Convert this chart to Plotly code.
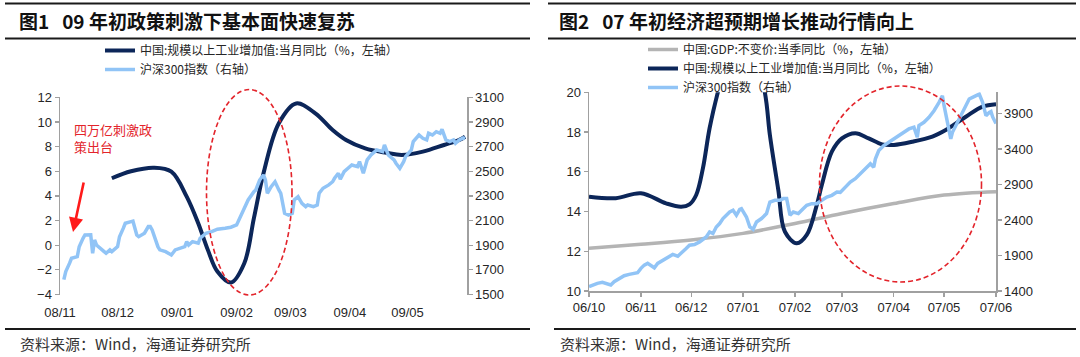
import plotly.graph_objects as go

W, H = 1080, 357

# ---------------- Figure 1 data (2008/11 - 2009/05) ----------------
# industrial value added yoy (%)
ip09_dates = ["2008-11-28", "2008-12-08", "2008-12-20", "2008-12-29", "2009-01-06",
              "2009-01-12", "2009-01-17", "2009-01-22", "2009-01-29", "2009-02-05",
              "2009-02-10", "2009-02-15", "2009-02-23", "2009-03-04", "2009-03-14",
              "2009-03-23", "2009-03-30", "2009-04-09", "2009-04-20", "2009-04-28",
              "2009-05-09", "2009-05-20", "2009-05-28", "2009-05-31"]
ip09_vals = [5.43, 6.0, 6.29, 5.97, 3.94,
             1.78, -0.38, -2.14, -3.03, -1.46,
             2.2, 5.84, 9.9, 11.5, 10.7,
             9.35, 8.54, 7.86, 7.5, 7.32,
             7.59, 8.13, 8.54, 8.8]

hs09_dates = [
    "2008-11-03", "2008-11-04", "2008-11-06", "2008-11-07", "2008-11-10", "2008-11-11",
    "2008-11-13", "2008-11-14", "2008-11-17", "2008-11-18", "2008-11-19", "2008-11-20",
    "2008-11-24", "2008-11-25", "2008-11-27", "2008-11-28", "2008-12-01", "2008-12-02",
    "2008-12-04", "2008-12-05", "2008-12-08", "2008-12-09", "2008-12-11", "2008-12-12",
    "2008-12-15", "2008-12-17", "2008-12-18", "2008-12-19", "2008-12-22", "2008-12-23",
    "2008-12-26", "2008-12-29", "2008-12-31", "2009-01-05", "2009-01-06", "2009-01-07",
    "2009-01-09", "2009-01-12", "2009-01-13", "2009-01-16", "2009-01-19", "2009-01-22",
    "2009-01-26", "2009-01-29", "2009-02-01", "2009-02-03", "2009-02-05", "2009-02-07",
    "2009-02-10", "2009-02-11", "2009-02-13", "2009-02-15", "2009-02-16", "2009-02-17",
    "2009-02-19", "2009-02-21", "2009-02-23", "2009-02-24", "2009-02-26", "2009-02-28",
    "2009-03-02", "2009-03-03", "2009-03-05", "2009-03-07", "2009-03-09", "2009-03-10",
    "2009-03-13", "2009-03-15", "2009-03-16", "2009-03-18", "2009-03-21", "2009-03-23",
    "2009-03-24", "2009-03-26", "2009-03-27", "2009-03-29", "2009-03-31", "2009-04-02",
    "2009-04-05", "2009-04-06", "2009-04-08", "2009-04-10", "2009-04-12", "2009-04-15",
    "2009-04-18", "2009-04-19", "2009-04-21", "2009-04-24", "2009-04-25", "2009-04-27",
    "2009-04-29", "2009-04-30", "2009-05-03", "2009-05-04", "2009-05-07", "2009-05-09",
    "2009-05-11", "2009-05-12", "2009-05-14", "2009-05-16", "2009-05-18", "2009-05-19",
    "2009-05-21", "2009-05-23", "2009-05-25", "2009-05-26", "2009-05-28", "2009-05-30",
    "2009-05-31"]
hs09_vals = [
    1620, 1686, 1754, 1794, 1807, 1888,
    1956, 1983, 1985, 1835, 1943, 1902,
    1848, 1835, 1862, 1848, 1888, 1969,
    2038, 2078, 2091, 2095, 1983, 1969,
    1997, 2051, 2051, 2024, 1888, 1862,
    1848, 1821, 1862, 1888, 1929, 1902,
    1929, 1916, 1956, 1997, 2010, 2030,
    2038, 2046, 2064, 2132, 2186, 2267,
    2334, 2348, 2429, 2470, 2429, 2321,
    2375, 2415, 2348, 2321, 2159, 2145,
    2159, 2267, 2294, 2240, 2213, 2226,
    2213, 2226, 2321, 2362, 2389, 2415,
    2443, 2484, 2435, 2497, 2524, 2551,
    2537, 2578, 2484, 2592, 2632, 2673,
    2659, 2713, 2632, 2592, 2565, 2524,
    2578, 2618, 2673, 2740, 2794, 2767,
    2754, 2808, 2794, 2821, 2808, 2840,
    2754, 2740, 2754, 2727, 2754, 2770,
    2764]

# ---------------- Figure 2 data (2006/10 - 2007/06) ----------------
gdp07_dates = ["2006-10-01", "2006-11-01", "2006-12-01", "2007-01-01", "2007-02-01",
               "2007-03-01", "2007-04-01", "2007-05-01", "2007-06-01"]
gdp07_vals = [12.15, 12.35, 12.57, 12.9, 13.4, 13.9, 14.4, 14.83, 15.0]

ip07_dates = ["2006-10-01", "2006-10-17", "2006-11-01", "2006-11-16", "2006-11-25",
              "2006-11-30", "2006-12-04", "2006-12-08", "2006-12-12", "2006-12-17",
              "2007-01-01", "2007-01-14", "2007-01-17", "2007-01-22", "2007-01-26",
              "2007-02-02", "2007-02-08", "2007-02-14", "2007-02-17", "2007-02-23",
              "2007-03-01", "2007-03-09", "2007-03-17", "2007-03-25", "2007-04-01",
              "2007-04-12", "2007-04-24", "2007-05-02", "2007-05-14", "2007-05-24",
              "2007-06-01"]
ip07_vals = [14.75, 14.67, 14.92, 14.41, 14.24,
             14.36, 14.83, 16.17, 18.19, 20.03,
             24.5, 20.0, 17.85, 15.1, 12.98,
             12.4, 12.82, 14.33, 15.33, 17.01,
             17.68, 17.94, 17.68, 17.38, 17.35,
             17.51, 17.77, 18.1, 18.77, 19.28,
             19.4]

hs07_dates = [
    "2006-10-01", "2006-10-03", "2006-10-06", "2006-10-09", "2006-10-12", "2006-10-14",
    "2006-10-16", "2006-10-19", "2006-10-22", "2006-10-25", "2006-10-28", "2006-10-30",
    "2006-11-01", "2006-11-03", "2006-11-05", "2006-11-07", "2006-11-09", "2006-11-11",
    "2006-11-14", "2006-11-17", "2006-11-20", "2006-11-23", "2006-11-25", "2006-11-28",
    "2006-11-30", "2006-12-03", "2006-12-06", "2006-12-08", "2006-12-10", "2006-12-12",
    "2006-12-14", "2006-12-16", "2006-12-18", "2006-12-20", "2006-12-22", "2006-12-24",
    "2006-12-26", "2006-12-28", "2006-12-30", "2006-12-31", "2007-01-03", "2007-01-05",
    "2007-01-07", "2007-01-09", "2007-01-12", "2007-01-15", "2007-01-17", "2007-01-20",
    "2007-01-23", "2007-01-25", "2007-01-27", "2007-01-29", "2007-01-31", "2007-02-03",
    "2007-02-06", "2007-02-08", "2007-02-11", "2007-02-14", "2007-02-17", "2007-02-20",
    "2007-02-23", "2007-02-26", "2007-02-28", "2007-03-03", "2007-03-06", "2007-03-09",
    "2007-03-12", "2007-03-15", "2007-03-18", "2007-03-20", "2007-03-21", "2007-03-23",
    "2007-03-26", "2007-03-29", "2007-04-01", "2007-04-04", "2007-04-07", "2007-04-10",
    "2007-04-13", "2007-04-15", "2007-04-16", "2007-04-19", "2007-04-22", "2007-04-25",
    "2007-04-28", "2007-04-30", "2007-05-01", "2007-05-03", "2007-05-05", "2007-05-06",
    "2007-05-08", "2007-05-11", "2007-05-14", "2007-05-16", "2007-05-18", "2007-05-20",
    "2007-05-22", "2007-05-24", "2007-05-26", "2007-05-28", "2007-05-29", "2007-05-30",
    "2007-05-31", "2007-06-01"]
hs07_vals = [
    1460, 1484, 1508, 1522, 1494, 1484,
    1531, 1578, 1615, 1634, 1648, 1657,
    1719, 1765, 1789, 1765, 1727, 1789,
    1835, 1882, 1915, 1891, 1929, 2000,
    2046, 2056, 2092, 2130, 2162, 2233,
    2210, 2303, 2350, 2421, 2467, 2513,
    2537, 2467, 2551, 2561, 2443, 2303,
    2270, 2373, 2421, 2491, 2654, 2678,
    2678, 2702, 2702, 2467, 2513, 2491,
    2561, 2607, 2631, 2631, 2678, 2724,
    2748, 2794, 2790, 2864, 2935, 2982,
    3052, 3123, 3193, 3145, 3263, 3380,
    3450, 3496, 3544, 3590, 3637, 3684,
    3707, 3566, 3731, 3777, 3847, 3941,
    4058, 4152, 4011, 3777, 3544, 3637,
    3731, 3871, 4011, 4105, 4128, 4152,
    4175, 4058, 3871, 3917, 3930, 3853,
    3790, 3760]

left_xticks = ["2008-11-01", "2008-12-01", "2009-01-01", "2009-02-01",
               "2009-03-01", "2009-04-01", "2009-05-01"]
left_xlabels = ["08/11", "08/12", "09/01", "09/02", "09/03", "09/04", "09/05"]
right_xticks = ["2006-10-01", "2006-11-01", "2006-12-01", "2007-01-01", "2007-02-01",
                "2007-03-01", "2007-04-01", "2007-05-01", "2007-06-01"]
right_xlabels = ["06/10", "06/11", "06/12", "07/01", "07/02", "07/03", "07/04", "07/05", "07/06"]
left_ticks_l = [-4, -2, 0, 2, 4, 6, 8, 10, 12]
left_ticks_r = [1500, 1700, 1900, 2100, 2300, 2500, 2700, 2900, 3100]
right_ticks_l = [10, 12, 14, 16, 18, 20]
right_ticks_r = [1400, 1900, 2400, 2900, 3400, 3900]

name_ip = "中国:规模以上工业增加值:当月同比（%，左轴）"
name_hs = "沪深300指数（右轴）"
name_gdp = "中国:GDP:不变价:当季同比（%，左轴）"

NAVY = "#0c2659"
LBLUE = "#91c4f6"
GREY = "#b4b4b4"
AXIS = "#a0a0a0"
RED = "#e3242b"
TXT = "#262626"
FONT = "Liberation Sans, Arial, Noto Sans CJK SC"
CJK = "Noto Sans CJK SC, Liberation Sans"


def px(x):
    return x / W


def py(y):
    return 1 - y / H


# plot areas (pixels)
L_X0, L_X1, L_Y0, L_Y1 = 60, 467, 97.3, 294.5
R_X0, R_X1, R_Y0, R_Y1 = 589, 996, 92.3, 291

fig = go.Figure()

# ---- left panel ----
fig.add_trace(go.Scatter(x=ip09_dates, y=ip09_vals, name=name_ip, mode="lines",
                         line=dict(color=NAVY, width=4, shape="spline", smoothing=1.0),
                         xaxis="x", yaxis="y", legend="legend"))
fig.add_trace(go.Scatter(x=hs09_dates, y=hs09_vals, name=name_hs, mode="lines",
                         line=dict(color=LBLUE, width=3.5),
                         xaxis="x", yaxis="y2", legend="legend"))

# ---- right panel ----
fig.add_trace(go.Scatter(x=gdp07_dates, y=gdp07_vals, name=name_gdp, mode="lines",
                         line=dict(color=GREY, width=3.5, shape="spline", smoothing=1.0),
                         xaxis="x2", yaxis="y3", legend="legend2"))
fig.add_trace(go.Scatter(x=ip07_dates, y=ip07_vals, name=name_ip, mode="lines",
                         line=dict(color=NAVY, width=4, shape="spline", smoothing=1.0),
                         xaxis="x2", yaxis="y3", legend="legend2"))
fig.add_trace(go.Scatter(x=hs07_dates, y=hs07_vals, name=name_hs, mode="lines",
                         line=dict(color=LBLUE, width=3.5),
                         xaxis="x2", yaxis="y4", legend="legend2"))

tickfont = dict(family=FONT, size=13, color=TXT)
ax_common = dict(showgrid=False, zeroline=False, linecolor=AXIS, linewidth=1.5,
                 ticks="outside", ticklen=4, tickcolor=AXIS, tickwidth=1.2,
                 tickfont=tickfont, automargin=False)

ydomL = [py(L_Y1), py(L_Y0)]
ydomR = [py(R_Y1), py(R_Y0)]
zero_pos = ydomL[0] + (0 - (-4)) / 16 * (ydomL[1] - ydomL[0])

fig.update_layout(
    template="none",
    width=W, height=H,
    margin=dict(l=0, r=0, t=0, b=0, pad=0, autoexpand=False),
    paper_bgcolor="white", plot_bgcolor="rgba(0,0,0,0)",
    showlegend=True, hovermode=False,
    xaxis=dict(domain=[px(L_X0), px(L_X1)], anchor="y", type="date",
               range=["2008-11-01", "2009-06-01"], tickvals=left_xticks,
               ticktext=left_xlabels, showline=False, showgrid=False, zeroline=False,
               ticks="outside", ticklen=6, tickcolor="rgba(0,0,0,0)", automargin=False,
               tickfont=dict(family=FONT, size=13, color=TXT)),
    xaxis3=dict(overlaying="x", anchor="free", position=zero_pos, type="date",
                range=["2008-11-01", "2009-06-01"], tickvals=left_xticks,
                showline=True, linecolor=AXIS, linewidth=1.5, showgrid=False,
                zeroline=False, automargin=False,
                ticks="outside", ticklen=4, tickcolor=AXIS, showticklabels=False),
    yaxis=dict(domain=ydomL, anchor="x", range=[-4, 12], tickvals=left_ticks_l,
               showline=True, **ax_common),
    yaxis2=dict(overlaying="y", side="right", anchor="x", range=[1500, 3100],
                tickvals=left_ticks_r, showline=True, **ax_common),
    xaxis2=dict(domain=[px(R_X0), px(R_X1)], anchor="y3", type="date",
                range=["2006-10-01", "2007-06-01"], tickvals=right_xticks,
                ticktext=right_xlabels, showline=True, **ax_common),
    yaxis3=dict(domain=ydomR, anchor="x2", range=[10, 20], tickvals=right_ticks_l,
                showline=True, **ax_common),
    yaxis4=dict(overlaying="y3", side="right", anchor="x2", range=[1400, 4200],
                tickvals=right_ticks_r, showline=True, **ax_common),
    legend=dict(x=px(100), y=py(36), xanchor="left", yanchor="top",
                bgcolor="rgba(0,0,0,0)", font=dict(family=CJK, size=12, color=TXT),
                tracegroupgap=0, itemwidth=30),
    legend2=dict(x=px(643), y=py(35), xanchor="left", yanchor="top",
                 bgcolor="rgba(0,0,0,0)", font=dict(family=CJK, size=12, color=TXT),
                 tracegroupgap=0, itemwidth=30),
)

shapes = []
# horizontal rules
for (x0, x1) in [(5, 530), (548, 1076)]:
    shapes.append(dict(type="line", xref="paper", yref="paper", x0=px(x0), x1=px(x1),
                       y0=py(3.5), y1=py(3.5), line=dict(color="#1a1a1a", width=2)))
    shapes.append(dict(type="line", xref="paper", yref="paper", x0=px(x0), x1=px(x1),
                       y0=py(38.5), y1=py(38.5), line=dict(color="#1a1a1a", width=2)))
for (x0, x1) in [(5, 530), (554, 1076)]:
    shapes.append(dict(type="line", xref="paper", yref="paper", x0=px(x0), x1=px(x1),
                       y0=py(329), y1=py(329), line=dict(color="#1a1a1a", width=2)))
# dashed ellipses
shapes.append(dict(type="circle", xref="paper", yref="paper",
                   x0=px(206.5), x1=px(292), y0=py(295), y1=py(89.5),
                   line=dict(color=RED, width=1.6, dash="5px,3px")))
shapes.append(dict(type="circle", xref="paper", yref="paper",
                   x0=px(819.5), x1=px(981.5), y0=py(282), y1=py(86),
                   line=dict(color=RED, width=1.6, dash="5px,3px")))
fig.update_layout(shapes=shapes)

ann = []
ann.append(dict(text="<b>图1   09 年初政策刺激下基本面快速复苏</b>", x=px(17), y=py(20),
                xref="paper", yref="paper", xanchor="left", yanchor="middle",
                showarrow=False, font=dict(family=CJK, size=19, color="#111")))
ann.append(dict(text="<b>图2   07 年初经济超预期增长推动行情向上</b>", x=px(557), y=py(20),
                xref="paper", yref="paper", xanchor="left", yanchor="middle",
                showarrow=False, font=dict(family=CJK, size=19, color="#111")))
for x0 in (18, 558):
    ann.append(dict(text="资料来源：Wind，海通证券研究所", x=px(x0), y=py(343),
                    xref="paper", yref="paper", xanchor="left", yanchor="middle",
                    showarrow=False, font=dict(family=CJK, size=15, color="#333")))
ann.append(dict(text="四万亿刺激政<br>策出台", x=px(72), y=py(118), xref="paper", yref="paper",
                xanchor="left", yanchor="top", align="left", showarrow=False,
                font=dict(family=CJK, size=13, color=RED)))
ann.append(dict(text="", x=px(73), y=py(232), xref="paper", yref="paper",
                ax=11, ay=-51, axref="pixel", ayref="pixel", showarrow=True,
                arrowhead=2, arrowsize=1.1, arrowwidth=2.6, arrowcolor="#ff1a1a",
                standoff=0))
fig.update_layout(annotations=ann)

fig.write_html("out.html",
               config={"displayModeBar": False, "staticPlot": True},
               post_script="document.body.style.margin='0';"
                           "document.body.style.overflow='hidden';")
